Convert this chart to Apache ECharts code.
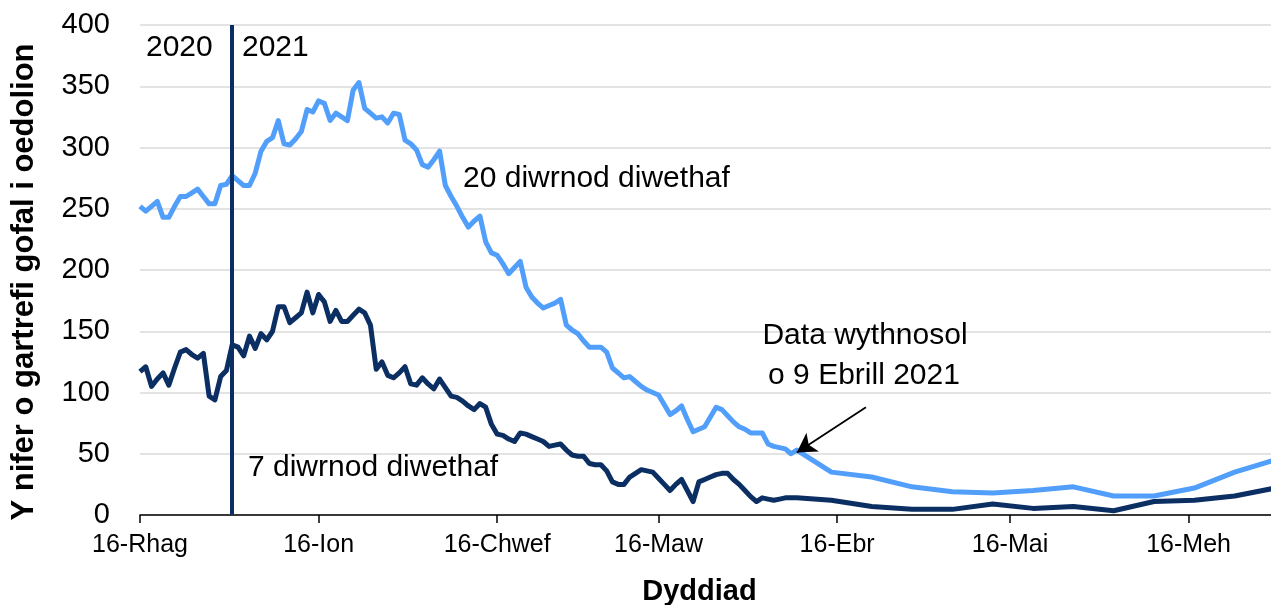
<!DOCTYPE html>
<html>
<head>
<meta charset="utf-8">
<title>Cartrefi gofal i oedolion</title>
<script src="https://cdn.jsdelivr.net/npm/echarts@6/dist/echarts.min.js"></script>
<style>
  html, body { margin: 0; padding: 0; background: #fff; }
  #chart { width: 1271px; height: 605px; }
</style>
</head>
<body>
<div id="chart"></div>
<script>
// enwau'r misoedd (Jan..Dec)
var monthNames = ['Ion', 'Chwef', 'Maw', 'Ebr', 'Mai', 'Meh', 'Gorff', 'Awst', 'Medi', 'Hyd', 'Tach', 'Rhag']
var tickLabels = ['16-Rhag', '16-Ion', '16-Chwef', '16-Maw', '16-Ebr', '16-Mai', '16-Meh']
var yearLine = '1-Ion'

// daily values, 16 Dec 2020 to 9 Apr 2021
var last20Daily = [
  252, 248, 252, 256, 243, 243, 252, 260, 260, 263, 266, 260, 254, 254, 269, 270,
  277, 273, 269, 269, 279, 297, 305, 308, 322, 303, 302, 307, 313, 331, 329, 338,
  336, 322, 328, 325, 322, 347, 353, 332, 328, 324, 325, 320, 328, 327, 306, 303,
  298, 286, 284, 290, 297, 269, 260, 252, 243, 235, 240, 244, 223, 214, 212, 205,
  197, 202, 207, 186, 178, 173, 169, 171, 173, 176, 155, 151, 148, 142, 137, 137,
  137, 133, 120, 116, 112, 113, 109, 105, 102, 100, 98, 90, 82, 85, 89, 78,
  68, 70, 72, 80, 88, 86, 81, 76, 72, 70, 67, 67, 67, 58, 56, 55,
  54, 50, 53
]
var last7Daily = [
  117, 121, 105, 111, 116, 106, 120, 133, 135, 131, 128, 132, 97, 94, 113, 118,
  139, 137, 130, 146, 136, 148, 143, 150, 170, 170, 157, 161, 165, 182, 165, 180,
  174, 158, 167, 158, 158, 163, 168, 165, 155, 119, 125, 114, 112, 116, 121, 107,
  106, 112, 107, 103, 111, 104, 97, 96, 93, 89, 86, 91, 88, 74, 66, 65,
  62, 60, 67, 66, 64, 62, 60, 56, 57, 58, 53, 49, 48, 48, 42, 41,
  41, 36, 27, 25, 25, 31, 34, 37, 36, 35, 30, 25, 20, 25, 29, 20,
  11, 27, 29, 31, 33, 34, 34, 29, 25, 20, 15, 11, 14, 13, 12, 13,
  14, 14, 14
]

// weekly values from April
var weeklyDates = ['15-Ebr', '22-Ebr', '29-Ebr', '6-Mai', '13-Mai', '20-Mai', '27-Mai', '3-Meh', '10-Meh', '17-Meh', '24-Meh', '1-Gorff']
var last20Weekly = [35, 31, 23, 19, 18, 20, 23, 15.5, 15.5, 22, 35, 45]
var last7Weekly = [12, 7, 4.6, 4.6, 9, 5.4, 7, 3.5, 11, 12, 15.5, 22]

// one category per day
var days = []
var d = new Date(Date.UTC(2020, 11, 16))
var end = new Date(Date.UTC(2021, 6, 1))
while (d <= end) {
  days.push(d.getUTCDate() + '-' + monthNames[d.getUTCMonth()])
  d.setUTCDate(d.getUTCDate() + 1)
}

function buildSeries(daily, weekly) {
  var out = daily.map(function(v, i) { return [days[i], v] })
  weeklyDates.forEach(function(c, i) { out.push([c, weekly[i]]) })
  return out
}

function isTick(index, value) {
  return tickLabels.indexOf(value) !== -1
}

var font = 'Liberation Sans, Arial, sans-serif'
var lightBlue = '#529ffb'
var navy = '#0b2e63'

function note(text, x, y, align) {
  return {
    type: 'text',
    x: x,
    y: y,
    z: 100,
    style: { text: text, font: '30px ' + font, fill: '#000', align: align || 'left', verticalAlign: 'middle' }
  }
}

var myChart = echarts.init(document.getElementById('chart'))
var option = {
  animation: false,
  textStyle: { fontFamily: font },
  grid: { left: 140, right: -4, top: 25, bottom: 90, containLabel: false, outerBoundsMode: 'none' },
  xAxis: {
    type: 'category',
    data: days,
    boundaryGap: false,
    name: 'Dyddiad',
    nameLocation: 'middle',
    nameGap: 62,
    nameTextStyle: { fontFamily: font, fontSize: 29, fontWeight: 'bold', color: '#000', padding: [0, 16, 0, 0] },
    axisLine: { lineStyle: { color: '#000', width: 1.5 } },
    axisTick: { interval: isTick, length: 8, lineStyle: { color: '#000', width: 1.5 } },
    axisLabel: { interval: isTick, fontFamily: font, fontSize: 25, color: '#000', margin: 18 },
    splitLine: { show: false }
  },
  yAxis: {
    type: 'value',
    min: 0,
    max: 400,
    interval: 50,
    name: 'Y nifer o gartrefi gofal i oedolion',
    nameLocation: 'middle',
    nameGap: 100,
    nameTextStyle: { fontFamily: font, fontSize: 31, fontWeight: 'bold', color: '#000', padding: [0, 24, 0, 0] },
    axisLine: { show: false },
    axisTick: { show: false },
    axisLabel: { fontFamily: font, fontSize: 29, color: '#000', margin: 30 },
    splitLine: { lineStyle: { color: '#e3e3e3', width: 2 } }
  },
  series: [
    {
      name: '7 diwrnod diwethaf',
      type: 'line',
      data: buildSeries(last7Daily, last7Weekly),
      showSymbol: false,
      connectNulls: true,
      lineStyle: { color: navy, width: 5, join: 'round' },
      itemStyle: { color: navy },
      markLine: {
        silent: true,
        symbol: 'none',
        label: { show: false },
        lineStyle: { color: navy, width: 4, type: 'solid' },
        data: [{ xAxis: yearLine }]
      }
    },
    {
      name: '20 diwrnod diwethaf',
      type: 'line',
      data: buildSeries(last20Daily, last20Weekly),
      showSymbol: false,
      connectNulls: true,
      lineStyle: { color: lightBlue, width: 5, join: 'round' },
      itemStyle: { color: lightBlue },
      markLine: {
        silent: true,
        symbol: ['none', 'arrow'],
        symbolSize: [17, 19],
        label: { show: false },
        lineStyle: { color: '#000', width: 1.8, type: 'solid' },
        data: [[{ coord: ['21-Ebr', 88] }, { coord: ['9-Ebr', 51] }]]
      }
    }
  ],
  graphic: [
    note('2020', 146, 48),
    note('2021', 242, 48),
    note('20 diwrnod diwethaf', 463, 179),
    note('7 diwrnod diwethaf', 248, 468),
    note('Data wythnosol', 865, 336, 'center'),
    note('o 9 Ebrill 2021', 864, 376, 'center')
  ]
}
myChart.setOption(option)
</script>
</body>
</html>
